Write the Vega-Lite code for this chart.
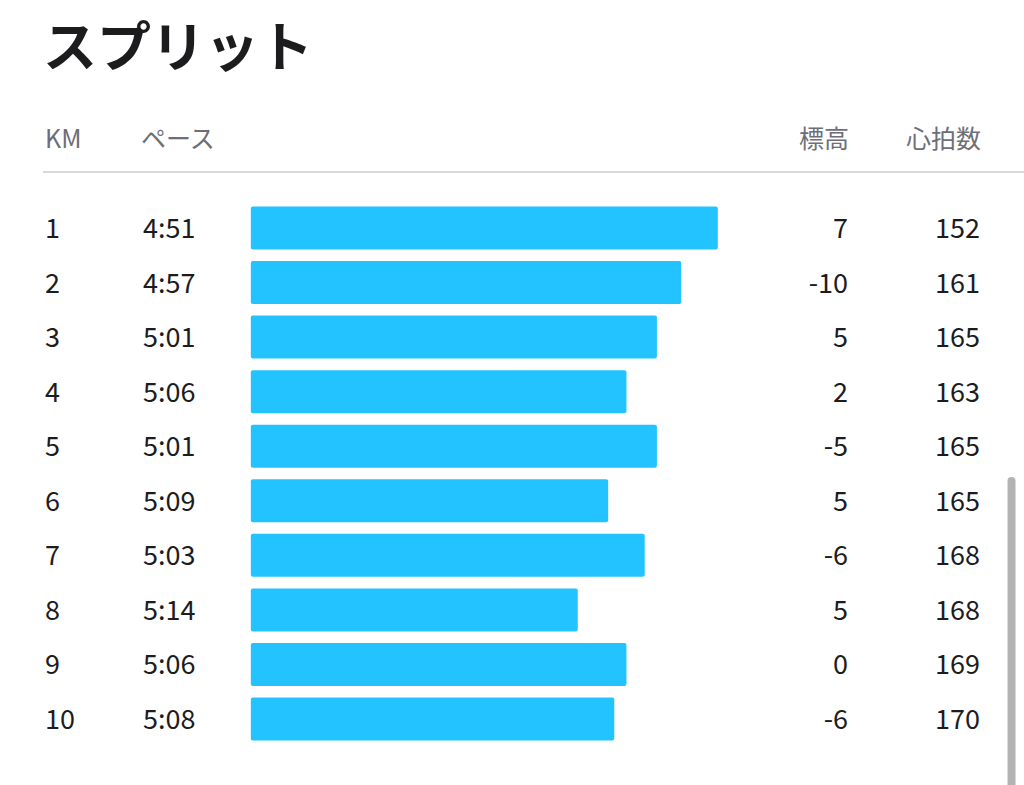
{
  "$schema": "https://vega.github.io/schema/vega-lite/v6.json",
  "width": 1024,
  "height": 785,
  "autosize": {"type": "none"},
  "padding": 0,
  "background": "#ffffff",
  "config": {"view": {"stroke": null}, "text": {"font": "Noto Sans CJK JP"}},
  "data": {
    "values": [
      {"km": 1, "pace": "4:51", "pace_s": 291, "elev": 7, "hr": 152},
      {"km": 2, "pace": "4:57", "pace_s": 297, "elev": -10, "hr": 161},
      {"km": 3, "pace": "5:01", "pace_s": 301, "elev": 5, "hr": 165},
      {"km": 4, "pace": "5:06", "pace_s": 306, "elev": 2, "hr": 163},
      {"km": 5, "pace": "5:01", "pace_s": 301, "elev": -5, "hr": 165},
      {"km": 6, "pace": "5:09", "pace_s": 309, "elev": 5, "hr": 165},
      {"km": 7, "pace": "5:03", "pace_s": 303, "elev": -6, "hr": 168},
      {"km": 8, "pace": "5:14", "pace_s": 314, "elev": 5, "hr": 168},
      {"km": 9, "pace": "5:06", "pace_s": 306, "elev": 0, "hr": 169},
      {"km": 10, "pace": "5:08", "pace_s": 308, "elev": -6, "hr": 170}
    ]
  },
  "resolve": {"scale": {"x": "independent"}},
  "layer": [
    {
      "mark": {"type": "bar", "color": "#22c3fe", "size": 43, "cornerRadius": 2, "orient": "horizontal"},
      "encoding": {
        "y": {"field": "km", "type": "quantitative", "scale": {"domain": [-3.179, 11.21], "reverse": true, "nice": false, "zero": false, "padding": 0}, "axis": null},
        "x": {"field": "pace_s", "type": "quantitative", "scale": {"domain": [408.9, 240.7], "nice": false, "zero": false, "padding": 0}, "axis": null},
        "x2": {"datum": 367.7}
      }
    },
    {
      "layer": [
        {
          "mark": {"type": "text", "align": "left", "baseline": "middle", "dy": 2, "fontSize": 27, "color": "#1c1c1e"},
          "encoding": {
            "y": {"field": "km", "type": "quantitative", "axis": null},
            "x": {"datum": 45, "type": "quantitative", "scale": {"domain": [0, 1024], "nice": false, "zero": false, "padding": 0}, "axis": null},
            "text": {"field": "km"}
          }
        },
        {
          "mark": {"type": "text", "align": "left", "baseline": "middle", "dy": 2, "fontSize": 27, "color": "#1c1c1e"},
          "encoding": {
            "y": {"field": "km", "type": "quantitative"},
            "x": {"datum": 143, "type": "quantitative"},
            "text": {"field": "pace"}
          }
        },
        {
          "mark": {"type": "text", "align": "right", "baseline": "middle", "dy": 2, "fontSize": 27, "color": "#1c1c1e"},
          "encoding": {
            "y": {"field": "km", "type": "quantitative"},
            "x": {"datum": 848, "type": "quantitative"},
            "text": {"field": "elev"}
          }
        },
        {
          "mark": {"type": "text", "align": "right", "baseline": "middle", "dy": 2, "fontSize": 27, "color": "#1c1c1e"},
          "encoding": {
            "y": {"field": "km", "type": "quantitative"},
            "x": {"datum": 980, "type": "quantitative"},
            "text": {"field": "hr"}
          }
        },
        {
          "data": {"values": [{"label": "スプリット"}]},
          "mark": {"type": "text", "align": "left", "baseline": "middle", "dy": 3, "fontSize": 54, "fontWeight": "bold", "color": "#1c1c1e"},
          "encoding": {
            "y": {"datum": -2.299, "type": "quantitative"},
            "x": {"datum": 43, "type": "quantitative"},
            "text": {"field": "label"}
          }
        },
        {
          "data": {"values": [{"label": "KM", "pos": 45}, {"label": "ペース", "pos": 141}]},
          "mark": {"type": "text", "align": "left", "baseline": "middle", "dy": 2, "fontSize": 25, "color": "#6e6e78"},
          "encoding": {
            "y": {"datum": -0.649, "type": "quantitative"},
            "x": {"field": "pos", "type": "quantitative"},
            "text": {"field": "label"}
          }
        },
        {
          "data": {"values": [{"label": "標高", "pos": 849}, {"label": "心拍数", "pos": 981}]},
          "mark": {"type": "text", "align": "right", "baseline": "middle", "dy": 2, "fontSize": 25, "color": "#6e6e78"},
          "encoding": {
            "y": {"datum": -0.649, "type": "quantitative"},
            "x": {"field": "pos", "type": "quantitative"},
            "text": {"field": "label"}
          }
        },
        {
          "data": {"values": [{"a": 1}]},
          "mark": {"type": "rule", "color": "#d9d9dd", "strokeWidth": 2},
          "encoding": {
            "y": {"datum": -0.026, "type": "quantitative"},
            "x": {"datum": 43, "type": "quantitative"},
            "x2": {"datum": 1024}
          }
        },
        {
          "data": {"values": [{"a": 1}]},
          "mark": {"type": "rule", "color": "#b3b3b3", "strokeWidth": 8, "strokeCap": "round"},
          "encoding": {
            "x": {"datum": 1011.5, "type": "quantitative"},
            "y": {"datum": 5.637, "type": "quantitative"},
            "y2": {"datum": 11.4}
          }
        }
      ]
    }
  ]
}
